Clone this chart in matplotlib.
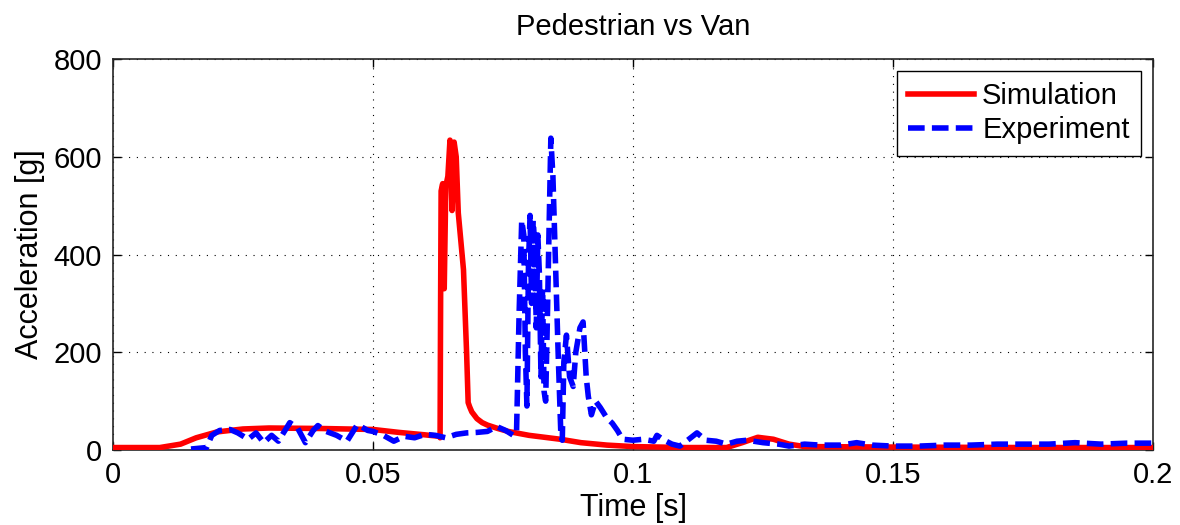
import matplotlib
matplotlib.use("Agg")
import matplotlib.pyplot as plt
from matplotlib.ticker import FixedLocator, FixedFormatter

# ==================== Data ====================

SIM_T = [0.000, 0.009, 0.013, 0.016, 0.020, 0.025, 0.030, 0.040, 0.050, 0.055,
         0.060, 0.0628, 0.0629, 0.0630, 0.0631, 0.0634, 0.0637, 0.0640, 0.0644,
         0.0648, 0.0652, 0.0656, 0.0660, 0.0664, 0.0674, 0.0680, 0.0683, 0.0686,
         0.0690, 0.0700, 0.0710, 0.0720, 0.0740, 0.0760, 0.0780, 0.0800, 0.0830,
         0.0860, 0.0900, 0.0950, 0.1000, 0.1100, 0.1180, 0.1210, 0.1240, 0.1270,
         0.1300, 0.1330, 0.1500, 0.1750, 0.2000]
SIM_G = [5, 5, 12, 25, 37, 43, 45, 44, 42, 36,
         31, 28, 25, 300, 530, 545, 330, 540, 560,
         634, 490, 630, 600, 485, 369, 199, 97, 88,
         78, 64, 56, 51, 44, 38, 34, 30, 26,
         22, 15, 10, 7, 5, 5, 15, 26, 22,
         12, 7, 6, 5, 5]

EXP_T = [0.0150, 0.0180, 0.0190, 0.0205, 0.0225, 0.0240, 0.0260, 0.0275, 0.0290,
         0.0305, 0.0318, 0.0340, 0.0355, 0.0370, 0.0385, 0.0394, 0.0410, 0.0430,
         0.0450, 0.0470, 0.0490, 0.0500, 0.0520, 0.0540, 0.0560, 0.0580, 0.0600,
         0.0620, 0.0640, 0.0660, 0.0680, 0.0700, 0.0720, 0.0738, 0.0755, 0.0770,
         0.0776, 0.0781, 0.0786, 0.0790, 0.0793, 0.0796, 0.0799, 0.0802, 0.0805,
         0.0808, 0.0811, 0.0814, 0.0817, 0.0820, 0.0823, 0.0826, 0.0829, 0.0832,
         0.0835, 0.0838, 0.0842, 0.0846, 0.0851, 0.0856, 0.0861, 0.0864, 0.0867,
         0.0872, 0.0878, 0.0885, 0.0890, 0.0898, 0.0904, 0.0910, 0.0914, 0.0920,
         0.0928, 0.0937, 0.0950, 0.0960, 0.0970, 0.0980, 0.1000, 0.1020, 0.1040,
         0.1046, 0.1060, 0.1075, 0.1090, 0.1105, 0.1123, 0.1140, 0.1160, 0.1180,
         0.1200, 0.1220, 0.1250, 0.1280, 0.1300, 0.1330, 0.1360, 0.1400, 0.1430,
         0.1460, 0.1500, 0.1550, 0.1600, 0.1650, 0.1700, 0.1750, 0.1800, 0.1850,
         0.1900, 0.1950, 0.2000]
EXP_G = [2, 5, 30, 40, 42, 35, 22, 35, 15,
         30, 18, 56, 45, 15, 40, 50, 38, 30,
         18, 52, 40, 38, 30, 18, 28, 25, 32,
         30, 25, 32, 35, 36, 38, 48, 40, 30,
         35, 280, 470, 440, 200, 90, 380, 480, 300,
         470, 420, 250, 440, 360, 150, 330, 120, 100,
         250, 420, 638, 560, 380, 200, 40, 20, 180,
         235, 150, 130, 200, 250, 262, 150, 110, 72,
         100, 87, 65, 55, 40, 22, 20, 22, 18,
         30, 20, 12, 8, 20, 35, 20, 18, 12,
         18, 20, 15, 12, 8, 12, 10, 10, 15,
         10, 8, 8, 10, 10, 12, 12, 12, 15,
         12, 14, 14]

X_TICKS = [0, 0.05, 0.1, 0.15, 0.2]
X_TICK_LABELS = ["0", "0.05", "0.1", "0.15", "0.2"]
Y_TICKS = [0, 200, 400, 600, 800]
Y_TICK_LABELS = ["0", "200", "400", "600", "800"]

# ==================== Plot ====================

plt.rcParams['font.family'] = ['Liberation Sans', 'DejaVu Sans']

fig = plt.figure(figsize=(11.8, 5.25), dpi=100)
ax = fig.add_axes([113 / 1180, 75 / 525, 1040 / 1180, 391 / 525])

ax.plot(SIM_T, SIM_G, color='#ff0000', lw=4.0, label='Simulation', zorder=3)
ax.plot(EXP_T, EXP_G, color='#0000ff', lw=4.0, dashes=(3.0, 1.3),
        label='Experiment', zorder=4)

ax.set_xlim(0, 0.2)
ax.set_ylim(0, 800)
ax.xaxis.set_major_locator(FixedLocator(X_TICKS))
ax.xaxis.set_major_formatter(FixedFormatter(X_TICK_LABELS))
ax.yaxis.set_major_locator(FixedLocator(Y_TICKS))
ax.yaxis.set_major_formatter(FixedFormatter(Y_TICK_LABELS))

ax.grid(True, color='black', lw=0.8, linestyle=(0, (1, 6)))
ax.set_axisbelow(True)
ax.tick_params(direction='in', top=True, right=True, length=6, width=1,
               labelsize=21, pad=8)
for sp in ax.spines.values():
    sp.set_linewidth(1.2)
    sp.set_color('#262626')

ax.set_title('Pedestrian vs Van', fontsize=21, pad=17)
ax.set_xlabel('Time [s]', fontsize=22, labelpad=3)
ax.set_ylabel('Acceleration [g]', fontsize=22, labelpad=6)

leg = ax.legend(loc='upper right', fontsize=21, fancybox=False, framealpha=1,
                edgecolor='black', borderaxespad=0.4, handlelength=2.25,
                handletextpad=0.28, labelspacing=0.2, borderpad=0.4)
leg.get_frame().set_linewidth(1.0)

fig.savefig('out.png', dpi=100)
